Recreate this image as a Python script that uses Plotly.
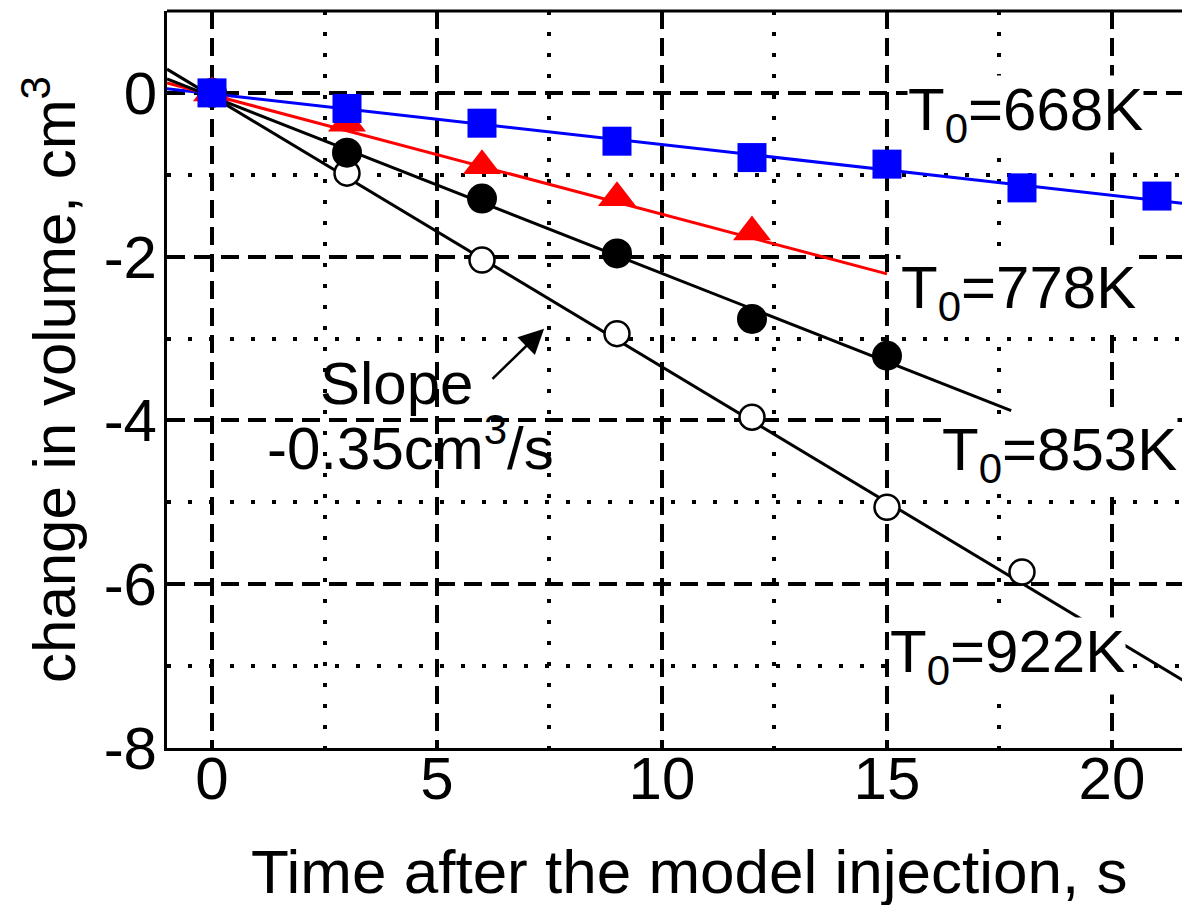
import plotly.graph_objects as go

# ---- data ----
t_668 = [0, 3, 6, 9, 12, 15, 18, 21]
v_668 = [0.0, -0.19, -0.37, -0.59, -0.79, -0.87, -1.16, -1.26]

t_778 = [0, 3, 6, 9, 12]
v_778 = [0.0, -0.37, -0.89, -1.28, -1.70]

t_853 = [0, 3, 6, 9, 12, 15]
v_853 = [0.0, -0.73, -1.29, -1.96, -2.76, -3.21]

t_922 = [0, 3, 6, 9, 12, 15, 18]
v_922 = [0.0, -0.98, -2.04, -2.94, -3.96, -5.06, -5.85]

# fitted straight lines (end points)
fit_t_668 = [-1, 21.6]
fit_v_668 = [0.05, -1.35]
fit_t_778 = [-1, 15]
fit_v_778 = [0.12, -2.21]
fit_t_853 = [-1, 17.76]
fit_v_853 = [0.17, -3.88]
fit_t_922 = [-1, 21.6]
fit_v_922 = [0.29, -7.18]

x_tick_vals = [0, 5, 10, 15, 20]
x_tick_text = ["0", "5", "10", "15", "20"]
x_minor_vals = [2.5, 7.5, 12.5, 17.5]
y_tick_vals = [-8, -6, -4, -2, 0]
y_tick_text = ["-8", "-6", "-4", "-2", "0"]
y_minor_vals = [-7, -5, -3, -1]

FONT = "Liberation Sans, Arial, sans-serif"
FS = 60

fig = go.Figure()

# fit lines
fig.add_trace(go.Scatter(x=fit_t_668, y=fit_v_668, mode="lines",
                         line=dict(color="#0000ff", width=3), showlegend=False, hoverinfo="skip"))
fig.add_trace(go.Scatter(x=fit_t_778, y=fit_v_778, mode="lines",
                         line=dict(color="#ff0000", width=3), showlegend=False, hoverinfo="skip"))
fig.add_trace(go.Scatter(x=fit_t_853, y=fit_v_853, mode="lines",
                         line=dict(color="black", width=3), showlegend=False, hoverinfo="skip"))
fig.add_trace(go.Scatter(x=fit_t_922, y=fit_v_922, mode="lines",
                         line=dict(color="black", width=3), showlegend=False, hoverinfo="skip"))

# markers
fig.add_trace(go.Scatter(x=t_922, y=v_922, mode="markers", name="T0=922K",
                         marker=dict(symbol="circle", size=25, color="white",
                                     line=dict(color="black", width=2.5)), showlegend=False))
fig.add_trace(go.Scatter(x=t_853, y=v_853, mode="markers", name="T0=853K",
                         marker=dict(symbol="circle", size=30, color="black", line=dict(width=0)),
                         showlegend=False))
fig.add_trace(go.Scatter(x=t_778, y=v_778, mode="markers", name="T0=778K",
                         marker=dict(symbol="triangle-up", size=33, color="#ff0000", line=dict(width=0)),
                         showlegend=False))
fig.add_trace(go.Scatter(x=t_668, y=v_668, mode="markers", name="T0=668K",
                         marker=dict(symbol="square", size=29, color="#0000ff", line=dict(width=0)),
                         showlegend=False))

grid_major = dict(gridcolor="black", gridwidth=3.5, griddash="18px,9px")
minor_common = dict(showgrid=True, gridcolor="black", gridwidth=3.5, griddash="4px,17px", ticks="")

fig.update_xaxes(range=[-1, 21.556], tickmode="array", tickvals=x_tick_vals, ticktext=x_tick_text,
                 showgrid=True, **grid_major, zeroline=False,
                 minor=dict(tickmode="array", tickvals=x_minor_vals, **minor_common),
                 showline=True, linecolor="black", linewidth=3, ticks="", ticklen=0,
                 ticklabelstandoff=-24,
                 tickfont=dict(family=FONT, size=FS, color="black"))
fig.update_yaxes(range=[-8, 1], tickmode="array", tickvals=y_tick_vals, ticktext=y_tick_text,
                 showgrid=True, **grid_major, zeroline=False,
                 minor=dict(tickmode="array", tickvals=y_minor_vals, **minor_common),
                 showline=True, linecolor="black", linewidth=3, ticks="", ticklen=0,
                 ticklabelstandoff=-5,
                 tickfont=dict(family=FONT, size=FS, color="black"),
                 title=dict(text="change in volume, cm<sup>3</sup>", standoff=9,
                            font=dict(family=FONT, size=FS, color="black")))

ann_font = dict(family=FONT, size=FS, color="black")
annotations = [
    dict(x=15.45, y=0.22, text="T<sub>0</sub>=668K"),
    dict(x=15.3, y=-1.95, text="T<sub>0</sub>=778K"),
    dict(x=16.2, y=-3.93, text="T<sub>0</sub>=853K"),
    dict(x=15.04, y=-6.40, text="T<sub>0</sub>=922K"),
]
anns = []
for a in annotations:
    anns.append(dict(x=a["x"], y=a["y"], xref="x", yref="y", text=a["text"], showarrow=False,
                     xanchor="left", yanchor="top", bgcolor="white", borderpad=0, font=ann_font))

anns.append(dict(x=4.09, y=-3.98, xref="x", yref="y", text="Slope", showarrow=False,
                 xanchor="center", yanchor="bottom", font=ann_font))
anns.append(dict(x=4.42, y=-4.77, xref="x", yref="y", text="-0.35cm<sup>3</sup>/s", showarrow=False,
                 xanchor="center", yanchor="bottom", font=ann_font))
anns.append(dict(x=7.38, y=-2.88, ax=6.2, ay=-3.51, xref="x", yref="y", axref="x", ayref="y",
                 text="", showarrow=True, arrowhead=2, arrowsize=2, arrowwidth=2.5,
                 arrowcolor="black", standoff=0, startstandoff=0))
# x-axis title
anns.append(dict(x=(689 - 167) / 1015, y=-(895 - 748) / 737, xref="paper", yref="paper",
                 text="Time after the model injection, s", showarrow=False,
                 xanchor="center", yanchor="bottom", yshift=-13,
                 font=dict(family=FONT, size=62, color="black")))

fig.update_layout(
    width=1182, height=905,
    margin=dict(l=167, r=0, t=11, b=157, autoexpand=False),
    paper_bgcolor="white", plot_bgcolor="white",
    annotations=anns,
    shapes=[
        dict(type="line", xref="paper", yref="paper", x0=0, x1=1, y0=1, y1=1,
             line=dict(color="black", width=3)),
        # white backing behind the slope note (hides grid lines there)
        dict(type="rect", xref="x", yref="y", x0=1.02, x1=7.82, y0=-3.16, y1=-4.78,
             fillcolor="white", line=dict(width=0), layer="below"),
    ],
    showlegend=False,
)

fig.write_html("out.html")
